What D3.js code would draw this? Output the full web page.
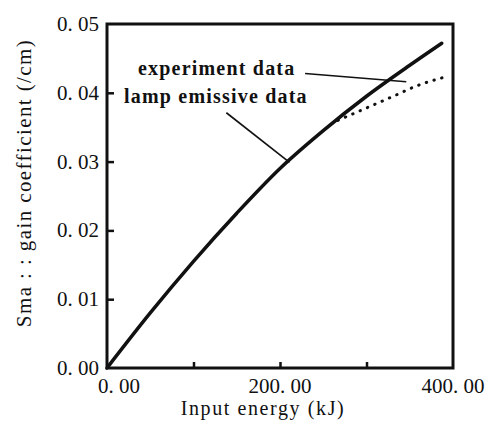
<!DOCTYPE html>
<html>
<head>
<meta charset="utf-8">
<script src="https://cdn.jsdelivr.net/npm/d3@7"></script>
<style>
  body { margin: 0; background: #fff; }
  text { font-family: "Liberation Serif", "DejaVu Serif", serif; fill: #111; }
</style>
</head>
<body>
<div id="myplot"></div>
<script>
// data (kJ, /cm)
var lampEnergy = [0, 50, 100, 150, 200, 250, 300, 350, 387];
var lampGain = [0, 0.0080, 0.0155, 0.0225, 0.0290, 0.0345, 0.0395, 0.0440, 0.0472];
var expEnergy = [267, 300, 331, 358, 391];
var expGain = [0.0360, 0.0378, 0.0395, 0.0410, 0.0423];
var xTicks = [0, 100, 200, 300, 400];
var xTickLabels = ["0. 00", "", "200. 00", "", "400. 00"];
var yTicks = [0, 0.01, 0.02, 0.03, 0.04, 0.05];
var yTickLabels = ["0. 00", "0. 01", "0. 02", "0. 03", "0. 04", "0. 05"];

var svg = d3.select('div#myplot')
  .append('svg')
  .attr('width', 495)
  .attr('height', 425);

var x = d3.scaleLinear().domain([0, 400]).range([107, 453]);
var y = d3.scaleLinear().domain([0, 0.05]).range([368, 24]);

// frame
svg.append("rect")
  .attr("x", x(0)).attr("y", y(0.05))
  .attr("width", x(400) - x(0))
  .attr("height", y(0) - y(0.05))
  .attr("fill", "none")
  .attr("stroke", "#111")
  .attr("stroke-width", 3);

// inward ticks
svg.append("g")
  .attr("transform", "translate(0," + y(0) + ")")
  .call(d3.axisTop(x).tickValues(xTicks.slice(1, 4)).tickSize(6).tickFormat(""))
  .call(g => g.select(".domain").remove())
  .call(g => g.selectAll("line").attr("stroke", "#111").attr("stroke-width", 2.5));

svg.append("g")
  .attr("transform", "translate(" + x(0) + ",0)")
  .call(d3.axisRight(y).tickValues(yTicks.slice(1, 5)).tickSize(7).tickFormat(""))
  .call(g => g.select(".domain").remove())
  .call(g => g.selectAll("line").attr("stroke", "#111").attr("stroke-width", 2.5));

// tick labels
svg.append("g").selectAll("text")
  .data(xTicks)
  .enter().append("text")
  .attr("x", (d, i) => i == 0 ? x(d) + 12 : x(d))
  .attr("y", 393)
  .attr("text-anchor", "middle")
  .attr("font-size", 21)
  .text((d, i) => xTickLabels[i]);

svg.append("g").selectAll("text")
  .data(yTicks)
  .enter().append("text")
  .attr("x", 99)
  .attr("y", d => y(d) + 7)
  .attr("text-anchor", "end")
  .attr("font-size", 21)
  .text((d, i) => yTickLabels[i]);

// axis titles
svg.append("text")
  .attr("x", 263).attr("y", 415)
  .attr("text-anchor", "middle")
  .attr("font-size", 20)
  .attr("letter-spacing", 1.6)
  .text("Input energy (kJ)");

svg.append("text")
  .attr("transform", "translate(31,183) rotate(-90)")
  .attr("text-anchor", "middle")
  .attr("font-size", 21)
  .attr("letter-spacing", 1.4)
  .text("Sma : :  gain coefficient (/cm)");

// curves
var line = d3.line().x(d => x(d[0])).y(d => y(d[1])).curve(d3.curveMonotoneX);

svg.append("path")
  .datum(d3.zip(lampEnergy, lampGain))
  .attr("d", line)
  .attr("fill", "none")
  .attr("stroke", "#111")
  .attr("stroke-width", 3.5)
  .attr("stroke-linecap", "round");

svg.append("path")
  .datum(d3.zip(expEnergy, expGain))
  .attr("d", line)
  .attr("fill", "none")
  .attr("stroke", "#111")
  .attr("stroke-width", 3)
  .attr("stroke-dasharray", "0.5,7.5")
  .attr("stroke-linecap", "round");

// annotations
svg.append("text")
  .attr("x", 138).attr("y", 75)
  .attr("font-size", 20)
  .attr("letter-spacing", 1.2)
  .attr("font-weight", 600)
  .text("experiment data");

svg.append("text")
  .attr("x", 124).attr("y", 103)
  .attr("font-size", 20)
  .attr("letter-spacing", 1.2)
  .attr("font-weight", 600)
  .text("lamp emissive data");

svg.append("line")
  .attr("x1", x(229)).attr("y1", y(0.0428))
  .attr("x2", x(346)).attr("y2", y(0.0416))
  .attr("stroke", "#111").attr("stroke-width", 1.6);

svg.append("line")
  .attr("x1", x(138)).attr("y1", y(0.0371))
  .attr("x2", x(211)).attr("y2", y(0.0299))
  .attr("stroke", "#111").attr("stroke-width", 1.6);
</script>
</body>
</html>
